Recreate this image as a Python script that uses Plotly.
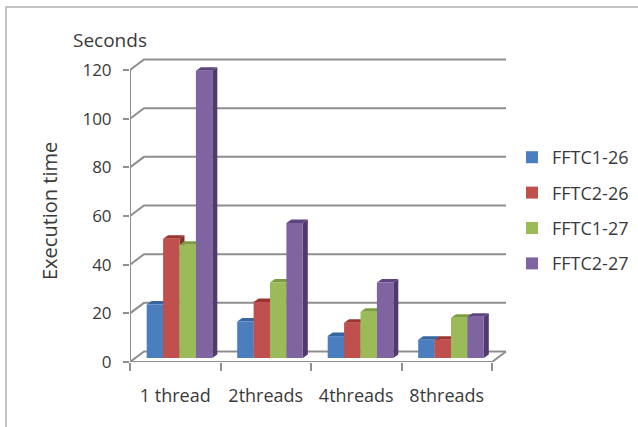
import plotly.graph_objects as go

# ---- data ----
categories = ["1 thread", "2threads", "4threads", "8threads"]
series_names = ["FFTC1-26", "FFTC2-26", "FFTC1-27", "FFTC2-27"]
fftc1_26 = [22, 15, 9, 7.5]
fftc2_26 = [49, 23, 14.5, 7.5]
fftc1_27 = [46.5, 31, 19, 16.5]
fftc2_27 = [118, 55.5, 31, 17]
y_ticks = [0, 20, 40, 60, 80, 100, 120]
series_values = [fftc1_26, fftc2_26, fftc1_27, fftc2_27]

# ---- style / layout ----
W, H = 660, 427  # slightly wider than the window so the legend does not squeeze the plot
LEFT, RIGHT_EDGE, TOP, BOTTOM = 130, 510, 50, 362
CAT_PX = 90.5
UNIT_PX = (362 - 70) / 120
FONT = "Open Sans"
TXT = "#3a3a3a"
GRID = "#8f8f8f"
front = ["#4a7ebf", "#c0504d", "#9bbb59", "#8064a2"]
side = ["#2f5587", "#86302e", "#6a8a35", "#4f3a6e"]
top_c = ["#36659f", "#9c3431", "#7c9c40", "#5c4480"]

wall_dx, wall_dy = 14 / CAT_PX, 10.5 / UNIT_PX
bar_dx, bar_dy = 5 / CAT_PX, 3.5 / UNIT_PX
bar_shift_x, bar_base = 4.25 / CAT_PX, 4 / UNIT_PX
bar_w = 16.4 / CAT_PX

x_max = (RIGHT_EDGE - LEFT) / CAT_PX
y_max = (BOTTOM - TOP) / UNIT_PX
n = len(categories)

fig = go.Figure()


def line(xs, ys, width=2):
    fig.add_trace(go.Scatter(x=xs, y=ys, mode="lines", line=dict(color=GRID, width=width),
                             showlegend=False, hoverinfo="skip", cliponaxis=False))


# wall gridlines with their diagonal run back from the front axis
for t in y_ticks:
    line([0, wall_dx, n + wall_dx], [t, t + wall_dy, t + wall_dy])
line([0, n, n + wall_dx], [0, 0, wall_dy])
line([0, 0], [0, y_ticks[-1]])

# side and top faces, left to right
for s, vals in enumerate(series_values):
    for i, v in enumerate(vals):
        x1 = i + 0.5 + bar_shift_x + (s - 2) * bar_w
        x2 = x1 + bar_w
        top = bar_base + v
        fig.add_trace(go.Scatter(
            x=[x2, x2 + bar_dx, x2 + bar_dx, x2, x2],
            y=[bar_base, bar_base + bar_dy, top + bar_dy, top, bar_base],
            mode="lines", fill="toself", fillcolor=side[s], line=dict(width=0),
            showlegend=False, hoverinfo="skip"))
        fig.add_trace(go.Scatter(
            x=[x1, x2, x2 + bar_dx, x1 + bar_dx, x1],
            y=[top, top, top + bar_dy, top + bar_dy, top],
            mode="lines", fill="toself", fillcolor=top_c[s], line=dict(width=0),
            showlegend=False, hoverinfo="skip"))

# front faces on the overlay axes
for s, vals in enumerate(series_values):
    fig.add_trace(go.Bar(
        x=[i + 0.5 + bar_shift_x for i in range(n)], y=vals, base=bar_base,
        width=bar_w, offset=(s - 2) * bar_w, name=series_names[s],
        marker=dict(color=front[s], line=dict(width=0)),
        xaxis="x2", yaxis="y2", legendgroup=series_names[s]))

plot_w = RIGHT_EDGE - LEFT
plot_h = BOTTOM - TOP


def px(x):
    return (x - LEFT) / plot_w


def py(y):
    return (BOTTOM - y) / plot_h


fig.update_layout(
    width=W, height=H, autosize=False,
    margin=dict(l=LEFT, r=W - RIGHT_EDGE, t=TOP, b=H - BOTTOM, pad=0),
    paper_bgcolor="white", plot_bgcolor="rgba(0,0,0,0)",
    barmode="overlay",
    font=dict(family=FONT, size=17, color=TXT),
    xaxis=dict(range=[0, x_max], showgrid=False, zeroline=False, showline=False,
               tickmode="array", tickvals=[i + 0.5 for i in range(n)], ticktext=categories,
               ticks="", ticklabelstandoff=21, tickfont=dict(size=18),
               minor=dict(tickmode="array", tickvals=list(range(n + 1)), ticks="outside",
                          ticklen=8, tickwidth=2, tickcolor=GRID, showgrid=False)),
    yaxis=dict(range=[0, y_max], showgrid=False, zeroline=False, showline=False,
               tickmode="array", tickvals=y_ticks, ticks="outside", ticklen=6, tickwidth=2,
               tickcolor=GRID, ticklabelstandoff=8, tickfont=dict(size=17)),
    xaxis2=dict(range=[0, x_max], overlaying="x", visible=False),
    yaxis2=dict(range=[0, y_max], overlaying="y", visible=False),
    legend=dict(x=px(512), xanchor="left",
                y=py(139), yanchor="top", borderwidth=0,
                bgcolor="rgba(0,0,0,0)", tracegroupgap=9, font=dict(size=18, color=TXT)),
    annotations=[
        dict(text="Seconds", x=px(110), y=py(40), xref="paper", yref="paper",
             xanchor="center", yanchor="middle",
             showarrow=False, font=dict(size=19, color=TXT)),
        dict(text="Execution time", x=px(50), y=py(211), xref="paper", yref="paper",
             xanchor="center", yanchor="middle",
             textangle=-90, showarrow=False, font=dict(size=20, color=TXT)),
    ],
    shapes=[dict(type="rect", xref="paper", yref="paper", x0=px(6), x1=px(700),
                 y0=py(7), y1=py(450), line=dict(color="#b0b0b0", width=1.5),
                 fillcolor="rgba(0,0,0,0)", layer="below")],
)

fig.write_html("out.html", config=dict(displayModeBar=False),
               post_script="document.body.style.margin='0';document.body.style.overflow='hidden';"
                           "document.documentElement.style.overflow='hidden';")
